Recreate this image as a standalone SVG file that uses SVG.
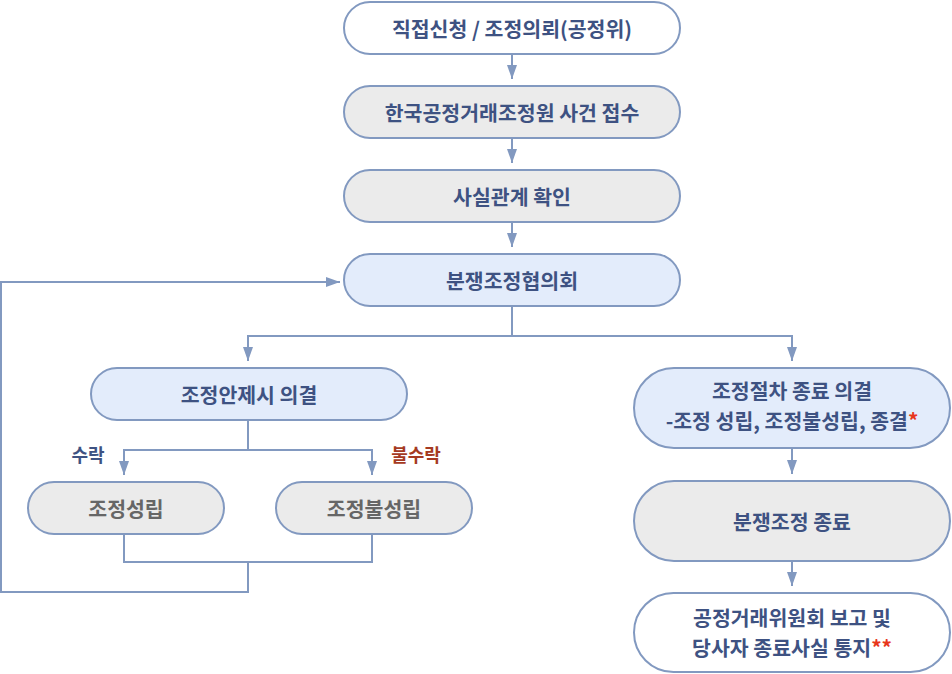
<svg xmlns="http://www.w3.org/2000/svg" width="952" height="674" viewBox="0 0 952 674">
<style>
.n{stroke:#8299c0;stroke-width:2}
.w{fill:#ffffff}
.g{fill:#ebebeb}
.b{fill:#e3ecfb}
.t{font-family:"Noto Sans CJK KR","Noto Sans",sans-serif;font-size:20.5px;font-weight:bold;fill:#3e5282;text-anchor:middle;dominant-baseline:central}
.tg{fill:#666666}
.red{fill:#e8361c}
.lab{font-family:"Noto Sans CJK KR","Noto Sans",sans-serif;font-size:18px;font-weight:bold;dominant-baseline:central}
.c{fill:none;stroke:#8299c0;stroke-width:2}
</style>
<defs>
<marker id="ah" viewBox="0 0 14 10" refX="14" refY="5" markerWidth="14" markerHeight="10" markerUnits="userSpaceOnUse" orient="auto">
<path d="M0,0 L14,5 L0,10 Z" fill="#8299c0"/>
</marker>
</defs>
<g id="connectors">
<path class="c" d="M512,55 V79" marker-end="url(#ah)"/>
<path class="c" d="M512,139 V163" marker-end="url(#ah)"/>
<path class="c" d="M512,223 V247" marker-end="url(#ah)"/>
<path class="c" d="M512,307 V336 H248 V361" marker-end="url(#ah)"/>
<path class="c" d="M512,336 H792 V361" marker-end="url(#ah)"/>
<path class="c" d="M248,421 V450 H124 V475" marker-end="url(#ah)"/>
<path class="c" d="M248,450 H372 V475" marker-end="url(#ah)"/>
<path class="c" d="M124,535 V562 H372 V535"/>
<path class="c" d="M248,562 V592 H1 V282 H340" marker-end="url(#ah)"/>
<path class="c" d="M792,449 V474" marker-end="url(#ah)"/>
<path class="c" d="M792,562 V586" marker-end="url(#ah)"/>
</g>
<g id="n1"><rect class="n w" x="344" y="2" width="336" height="52" rx="26"/><text class="t" x="512" y="28">직접신청 / 조정의뢰(공정위)</text></g>
<g id="n2"><rect class="n g" x="344" y="86" width="336" height="52" rx="26"/><text class="t" x="512" y="112">한국공정거래조정원 사건 접수</text></g>
<g id="n3"><rect class="n g" x="344" y="170" width="336" height="52" rx="26"/><text class="t" x="512" y="196">사실관계 확인</text></g>
<g id="n4"><rect class="n b" x="344" y="254" width="336" height="52" rx="26"/><text class="t" x="512" y="280">분쟁조정협의회</text></g>
<g id="n5"><rect class="n b" x="91" y="368" width="316" height="52" rx="26"/><text class="t" x="249" y="394">조정안제시 의결</text></g>
<g id="n6"><rect class="n b" x="634" y="368" width="316" height="80" rx="40"/><text class="t" x="792" y="390">조정절차 종료 의결</text><text class="t" x="792" y="420">-조정 성립, 조정불성립, 종결<tspan class="red">*</tspan></text></g>
<g id="lab1"><text class="lab" x="88" y="454" text-anchor="middle" fill="#3e5282">수락</text></g>
<g id="lab2"><text class="lab" x="416" y="454" text-anchor="middle" fill="#a53a22">불수락</text></g>
<g id="n7"><rect class="n g" x="28" y="482" width="196" height="52" rx="26"/><text class="t tg" x="126" y="508">조정성립</text></g>
<g id="n8"><rect class="n g" x="276" y="482" width="196" height="52" rx="26"/><text class="t tg" x="374" y="508">조정불성립</text></g>
<g id="n9"><rect class="n g" x="634" y="481" width="316" height="80" rx="40"/><text class="t" x="792" y="521">분쟁조정 종료</text></g>
<g id="n10"><rect class="n w" x="634" y="593" width="316" height="79" rx="39.5"/><text class="t" x="792" y="617">공정거래위원회 보고 및</text><text class="t" x="792" y="647">당사자 종료사실 통지<tspan class="red">**</tspan></text></g>
</svg>
